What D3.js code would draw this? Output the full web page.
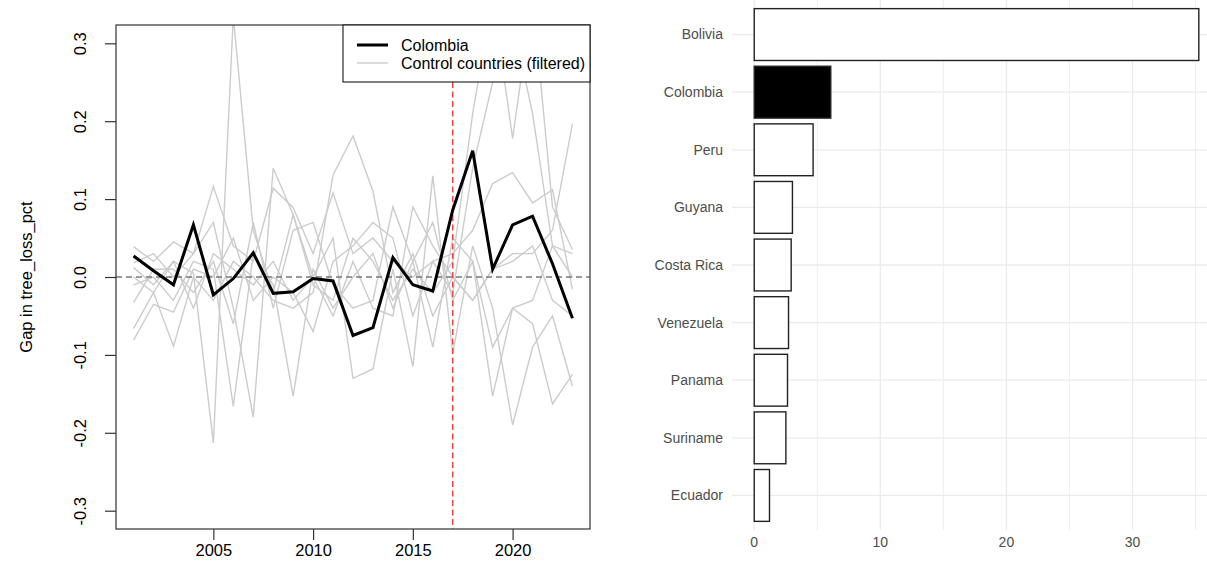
<!DOCTYPE html>
<html>
<head>
<meta charset="utf-8">
<script src="https://cdn.jsdelivr.net/npm/d3@7"></script>
<style>
  body { margin: 0; background: #fff; }
  text { font-family: "Liberation Sans", Arial, sans-serif; }
</style>
</head>
<body>
<script>
var w = 1207, h = 583;

// left panel: gaps by year
var years = d3.range(2001, 2024);
var colombiaGap = [0.027, 0.008, -0.010, 0.067, -0.023, -0.002, 0.031, -0.021, -0.019, -0.002, -0.005, -0.075,
                   -0.065, 0.025, -0.010, -0.018, 0.086, 0.162, 0.010, 0.067, 0.078, 0.017, -0.053];
var controlGaps = [
  [0.012, -0.010, 0.020, 0.005, -0.213, 0.335, 0.060, -0.020, 0.080, -0.010, -0.030, 0.050, 0.020, -0.030, 0.010, -0.020, 0.020, 0.210, 0.360, 0.178, 0.360, 0.090, 0.035],
  [0.039, 0.020, 0.045, 0.030, 0.116, 0.040, 0.020, 0.114, 0.089, 0.030, 0.108, 0.030, 0.050, 0.020, 0.000, 0.020, 0.030, 0.060, 0.120, 0.134, 0.095, 0.112, -0.016],
  [-0.010, 0.000, -0.030, 0.020, 0.010, -0.166, 0.030, -0.010, -0.153, 0.010, -0.040, 0.000, 0.030, -0.040, 0.020, 0.070, -0.030, 0.020, -0.153, -0.040, -0.060, -0.163, -0.125],
  [0.018, 0.030, 0.000, 0.030, 0.070, -0.040, -0.180, 0.140, 0.080, 0.000, 0.050, -0.130, -0.118, 0.010, -0.115, 0.130, -0.098, 0.040, -0.040, -0.190, -0.090, -0.050, -0.140],
  [-0.066, -0.020, -0.089, 0.000, -0.030, 0.020, 0.000, -0.030, -0.040, -0.020, 0.131, 0.181, 0.110, -0.020, 0.030, -0.050, 0.000, -0.030, 0.010, 0.030, 0.030, 0.060, 0.197],
  [-0.081, -0.035, -0.045, 0.010, 0.000, 0.050, -0.030, 0.000, -0.020, -0.070, 0.020, 0.040, 0.070, 0.050, -0.050, 0.020, -0.020, 0.140, 0.250, 0.330, 0.210, 0.040, 0.030],
  [-0.033, 0.010, 0.010, -0.020, 0.020, -0.060, 0.070, -0.040, 0.060, 0.070, -0.010, -0.040, -0.030, 0.090, 0.020, -0.090, 0.050, 0.020, -0.090, -0.040, -0.030, 0.040, 0.000],
  [0.000, -0.020, 0.020, -0.040, 0.030, 0.010, -0.010, 0.020, -0.030, 0.000, -0.050, 0.020, -0.040, -0.050, 0.090, 0.040, 0.000, -0.030, 0.010, 0.020, 0.040, -0.030, -0.050]
];
var treatYear = 2017;
var xTicks = [2005, 2010, 2015, 2020];
var yTicks = [-0.3, -0.2, -0.1, 0.0, 0.1, 0.2, 0.3];

// right panel: bar values
var countries = ["Bolivia", "Colombia", "Peru", "Guyana", "Costa Rica", "Venezuela", "Panama", "Suriname", "Ecuador"];
var barValues = [35.26, 6.07, 4.67, 3.03, 2.93, 2.72, 2.64, 2.51, 1.21];
var barTicks = [0, 10, 20, 30];
var barMinor = [5, 15, 25, 35];

var svg = d3.select("body").append("svg").attr("width", w).attr("height", h);

// ---------- left plot ----------
var L = {left: 116, right: 590, top: 25, bottom: 529};
var x = d3.scaleLinear().domain([2000.12, 2023.88]).range([L.left, L.right]);
var y = d3.scaleLinear().domain([-0.3235, 0.3235]).range([L.bottom, L.top]);

svg.append("clipPath").attr("id", "clipL").append("rect")
  .attr("x", L.left).attr("y", L.top).attr("width", L.right - L.left).attr("height", L.bottom - L.top);

var line = d3.line().x(function(d, i){ return x(years[i]); }).y(function(d){ return y(d); });

var gL = svg.append("g").attr("clip-path", "url(#clipL)");
gL.selectAll("path.ctrl").data(controlGaps).enter().append("path")
  .attr("class", "ctrl")
  .attr("d", line)
  .attr("fill", "none")
  .attr("stroke", "#cccccc")
  .attr("stroke-width", 1.4);

gL.append("line")
  .attr("x1", L.left).attr("x2", L.right).attr("y1", y(0)).attr("y2", y(0))
  .attr("stroke", "#7a7a7a").attr("stroke-width", 1.3).attr("stroke-dasharray", "6,4");

gL.append("line")
  .attr("x1", x(treatYear)).attr("x2", x(treatYear)).attr("y1", L.top).attr("y2", L.bottom)
  .attr("stroke", "#f03c3c").attr("stroke-width", 1.4).attr("stroke-dasharray", "6,3.5");

gL.append("path")
  .datum(colombiaGap)
  .attr("d", line)
  .attr("fill", "none")
  .attr("stroke", "#000")
  .attr("stroke-width", 3)
  .attr("stroke-linejoin", "miter");

// box
svg.append("rect")
  .attr("x", L.left).attr("y", L.top).attr("width", L.right - L.left).attr("height", L.bottom - L.top)
  .attr("fill", "none").attr("stroke", "#333").attr("stroke-width", 1.2);

// axes
var xAxis = svg.append("g").attr("transform", "translate(0," + L.bottom + ")")
  .call(d3.axisBottom(x).tickValues(xTicks).tickSize(11).tickPadding(4).tickFormat(d3.format("d")));
xAxis.select(".domain").remove();
xAxis.selectAll("line").attr("stroke", "#333").attr("stroke-width", 1.2);
xAxis.selectAll("text").attr("font-size", "16.5px").attr("fill", "#000")
  .attr("y", 27).attr("dy", 0);

var yAxis = svg.append("g").attr("transform", "translate(" + L.left + ",0)")
  .call(d3.axisLeft(y).tickValues(yTicks).tickSize(11).tickFormat(d3.format(".1f")));
yAxis.select(".domain").remove();
yAxis.selectAll("line").attr("stroke", "#333").attr("stroke-width", 1.2);
yAxis.selectAll("text")
  .text(function(d){ return d3.format(".1f")(d).replace("−", "-"); })
  .attr("font-size", "16.5px").attr("fill", "#000")
  .attr("x", 0).attr("dy", 0)
  .attr("text-anchor", "middle")
  .attr("transform", "translate(-30,0) rotate(-90)");

svg.append("text")
  .attr("transform", "translate(32," + y(0) + ") rotate(-90)")
  .attr("text-anchor", "middle")
  .attr("font-size", "16.5px")
  .text("Gap in tree_loss_pct");

// legend
var lg = svg.append("g");
lg.append("rect").attr("x", 343).attr("y", L.top).attr("width", L.right - 343).attr("height", 57)
  .attr("fill", "#fff").attr("stroke", "#000").attr("stroke-width", 1);
var legendItems = [
  {label: "Colombia", color: "#000", width: 3},
  {label: "Control countries (filtered)", color: "#cccccc", width: 1.4}
];
lg.selectAll("line").data(legendItems).enter().append("line")
  .attr("x1", 357).attr("x2", 388)
  .attr("y1", function(d, i){ return 45 + i * 18; })
  .attr("y2", function(d, i){ return 45 + i * 18; })
  .attr("stroke", function(d){ return d.color; })
  .attr("stroke-width", function(d){ return d.width; });
lg.selectAll("text").data(legendItems).enter().append("text")
  .attr("x", 401)
  .attr("y", function(d, i){ return 51 + i * 18; })
  .attr("font-size", "16px")
  .text(function(d){ return d.label; });

// ---------- right plot ----------
var R = {left: 732, right: 1221, top: 0, bottom: 530};
var xb = d3.scaleLinear().domain([-1.763, 37.02]).range([R.left, R.right]);
var yb = d3.scaleBand().domain(countries).range([R.top, R.bottom]).paddingInner(0.1).paddingOuter(0.15);

var gR = svg.append("g");
gR.selectAll("line.minor").data(barMinor).enter().append("line")
  .attr("class", "minor")
  .attr("x1", function(d){ return xb(d); }).attr("x2", function(d){ return xb(d); })
  .attr("y1", R.top).attr("y2", R.bottom)
  .attr("stroke", "#efefef").attr("stroke-width", 1);
gR.selectAll("line.major").data(barTicks).enter().append("line")
  .attr("class", "major")
  .attr("x1", function(d){ return xb(d); }).attr("x2", function(d){ return xb(d); })
  .attr("y1", R.top).attr("y2", R.bottom)
  .attr("stroke", "#ebebeb").attr("stroke-width", 1.3);
gR.selectAll("line.hgrid").data(countries).enter().append("line")
  .attr("class", "hgrid")
  .attr("x1", R.left).attr("x2", R.right)
  .attr("y1", function(d){ return yb(d) + yb.bandwidth() / 2; })
  .attr("y2", function(d){ return yb(d) + yb.bandwidth() / 2; })
  .attr("stroke", "#ebebeb").attr("stroke-width", 1.3);

gR.selectAll("rect").data(countries).enter().append("rect")
  .attr("x", xb(0))
  .attr("y", function(d){ return yb(d); })
  .attr("width", function(d, i){ return xb(barValues[i]) - xb(0); })
  .attr("height", yb.bandwidth())
  .attr("fill", function(d){ return d === "Colombia" ? "#000" : "#fff"; })
  .attr("stroke", "#222")
  .attr("stroke-width", 1.4);

gR.selectAll("text.cat").data(countries).enter().append("text")
  .attr("class", "cat")
  .attr("x", 723)
  .attr("y", function(d){ return yb(d) + yb.bandwidth() / 2; })
  .attr("dy", "0.35em")
  .attr("text-anchor", "end")
  .attr("font-size", "14px")
  .attr("fill", "#4d4d4d")
  .text(function(d){ return d; });

gR.selectAll("text.tick").data(barTicks).enter().append("text")
  .attr("class", "tick")
  .attr("x", function(d){ return xb(d); })
  .attr("y", 547)
  .attr("text-anchor", "middle")
  .attr("font-size", "14px")
  .attr("fill", "#4d4d4d")
  .text(function(d){ return d; });
</script>
</body>
</html>
